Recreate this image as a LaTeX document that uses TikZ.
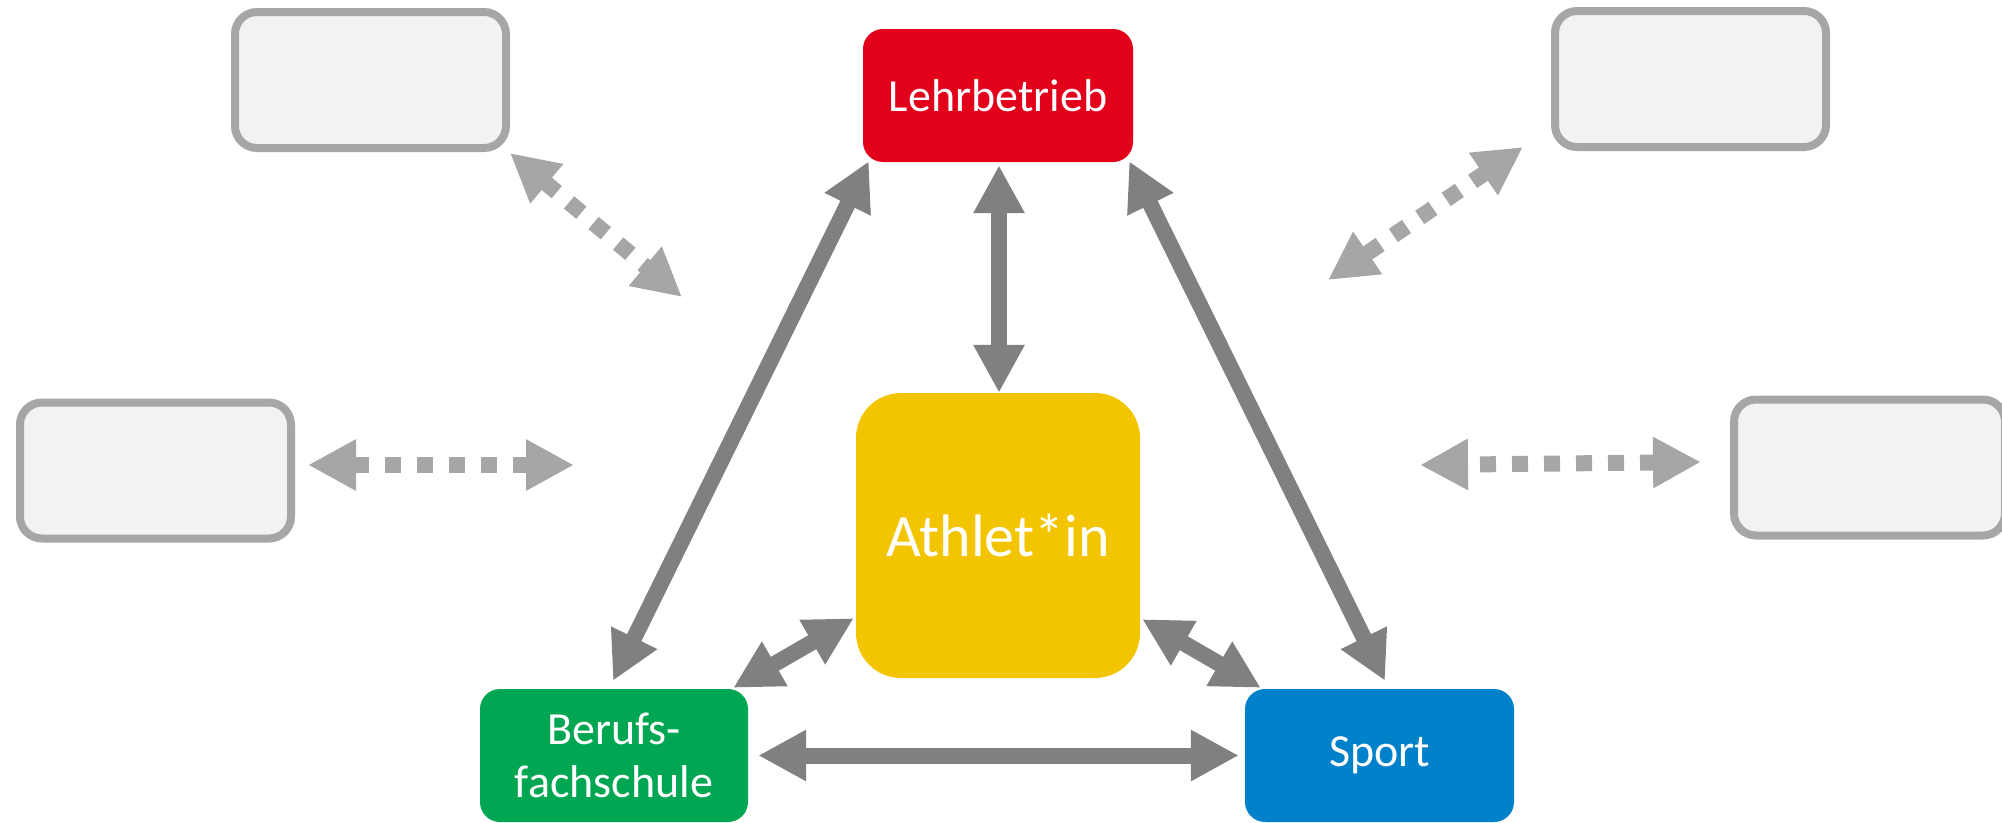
\documentclass[tikz,border=0pt]{standalone}
\usepackage{fontspec}
\setmainfont{Carlito}
\usetikzlibrary{arrows.meta}
\definecolor{lrot}{HTML}{E2001A}
\definecolor{gelb}{HTML}{F2C500}
\definecolor{gruen}{HTML}{00A651}
\definecolor{blau}{HTML}{0081C9}
\definecolor{dgray}{HTML}{808080}
\definecolor{lgray}{HTML}{A6A6A6}
\definecolor{boxfill}{HTML}{F2F2F2}
\begin{document}
\begin{tikzpicture}[x=1pt,y=-1pt,
  box/.style={rounded corners=20pt, inner sep=0pt, text=white, font=\fontsize{46}{53}\selectfont, align=center},
  gbox/.style={draw=lgray, fill=boxfill, line width=8pt, rounded corners=22pt, minimum width=271pt, minimum height=136pt, inner sep=0pt},
  conn/.style={draw=dgray, line width=16pt, {Triangle[length=48pt,width=48pt]}-{Triangle[length=48pt,width=48pt]}},
  dconn/.style={draw=lgray, line width=16pt, dash pattern=on 16pt off 16pt, {Triangle[length=48pt,width=48pt]}-{Triangle[length=48pt,width=48pt]}}
]
\useasboundingbox (0,0) rectangle (2002,822);

% main nodes
\node[box, fill=lrot, minimum width=270pt, minimum height=133pt] (lehr) at (998,95.5) {Lehrbetrieb};
\node[box, fill=gelb, rounded corners=45pt, minimum width=284pt, minimum height=285pt, font=\fontsize{60}{72}\selectfont] (ath) at (998,535.5) {Athlet*in};
\node[box, fill=gruen, minimum width=268pt, minimum height=133pt] (beruf) at (614,755.5) {Berufs-\\fachschule};
\node[box, fill=blau, minimum width=269pt, minimum height=133pt] (sport) at (1379.5,755.5) {Sport};

% gray empty boxes
\node[gbox] (gtl) at (370.5,80) {};
\node[gbox] (gtr) at (1690.5,79) {};
\node[gbox] (gml) at (155.5,470.5) {};
\node[gbox] (gmr) at (1869.5,467.5) {};

% free ends of dashed arrows
\coordinate (etl) at (682,297);
\coordinate (etr) at (1328,280);
\coordinate (eml) at (574,465);
\coordinate (emr) at (1420,465);

% dashed arrows
\draw[dconn] ([yshift=-1pt]gtl.south east) -- (etl);
\draw[dconn] ([xshift=-28pt,yshift=4pt]gtr.south west) -- (etr);
\draw[dconn] ([xshift=13pt,yshift=5.5pt]gml.east) -- (eml);
\draw[dconn] ([xshift=-29pt,yshift=5.5pt]gmr.west) -- (emr);

% solid arrows
\draw[conn] ([xshift=1pt,yshift=-3pt]lehr.south) -- ([xshift=1pt]ath.north);
\draw[conn] ([xshift=6pt,yshift=1pt]lehr.south west) -- ([xshift=-1pt,yshift=8pt]beruf.north);
\draw[conn] ([xshift=-4pt,yshift=1pt]lehr.south east) -- ([xshift=5.5pt,yshift=8pt]sport.north);
\draw[conn] ([xshift=-2pt,yshift=60pt]ath.south west) -- ([xshift=-15pt,yshift=1pt]beruf.north east);
\draw[conn] ([xshift=2pt,yshift=59pt]ath.south east) -- ([xshift=16pt,yshift=1pt]sport.north west);
\draw[conn] ([xshift=10pt]beruf.east) -- ([xshift=-6pt]sport.west);
\end{tikzpicture}
\end{document}
